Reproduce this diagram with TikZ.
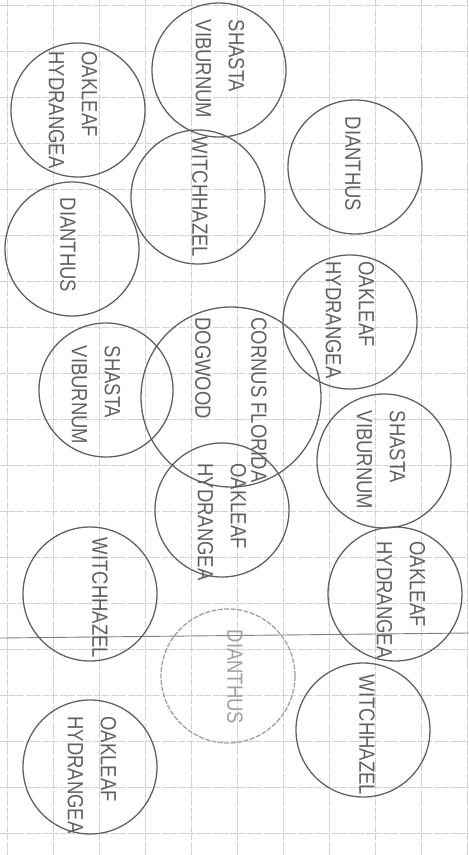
\documentclass[tikz,border=0pt]{standalone}
\usepackage{fontspec}
\newfontfamily\handfont[FakeStretch=0.84]{Liberation Sans}
\definecolor{pencil}{RGB}{96,96,96}
\definecolor{faint}{RGB}{160,160,160}
\definecolor{gridgray}{RGB}{210,210,210}

\begin{document}
\begin{tikzpicture}[x=1pt, y=-1pt,
  shrub/.style={draw=pencil, line width=1.3pt},
  tag/.style={rotate=-90, text=pencil, align=left, inner sep=0pt,
    font=\handfont\fontsize{22}{33}\selectfont},
  gridline/.style={draw=gridgray, line width=0.6pt, dash pattern=on 7pt off 1.5pt},
]
  \useasboundingbox (0,0) rectangle (469,855);
  % Grid paper
  \foreach \x in {7,53,...,469}{
    \draw[gridline] (\x,0) -- (\x,855);
  }
  \foreach \y in {5,51,...,855}{
    \draw[gridline] (0,\y) -- (469,\y);
  }
  % Fold across the sheet
  \draw[pencil!80, line width=0.9pt] (0,638) -- (469,633);
  % Shasta viburnum
  \foreach \cx/\cy/\tx/\ty [count=\i] in {219/70/220/69, 106/390/96/395, 384/461/381/460}{
    \draw[shrub] (\cx,\cy) circle[radius=67];
    \node[tag] (sv\i) at (\tx,\ty) {SHASTA\\VIBURNUM};
  }
  % Oakleaf hydrangea
  \foreach \cx/\cy/\tx/\ty [count=\i] in {78/110/73/110, 350/322/350/320,
      222/510/222/522, 395/594/401/600, 90/767/92/775}{
    \draw[shrub] (\cx,\cy) circle[radius=67];
    \node[tag] (oh\i) at (\tx,\ty) {OAKLEAF\\HYDRANGEA};
  }
  % Witch hazel
  \foreach \cx/\cy/\tx/\ty [count=\i] in {198/197/200/197, 90/594/100/598, 363/730/367/735}{
    \draw[shrub] (\cx,\cy) circle[radius=67];
    \node[tag] (wh\i) at (\tx,\ty) {WITCHHAZEL};
  }
  % Dianthus
  \foreach \cx/\cy/\tx/\ty [count=\i] in {72/249/68/245, 355/167/353/164}{
    \draw[shrub] (\cx,\cy) circle[radius=67];
    \node[tag] (di\i) at (\tx,\ty) {DIANTHUS};
  }
  \draw[shrub, draw=faint, dash pattern=on 5pt off 1.5pt] (228,676) circle[radius=67];
  \node[tag, text=faint] (di3) at (235,677) {DIANTHUS};
  % Dogwood
  \draw[shrub] (231,397) circle[radius=90];
  \node[tag, font=\handfont\fontsize{22}{56}\selectfont] (dw) at (231,400)
    {CORNUS FLORIDA\\DOGWOOD};
\end{tikzpicture}
\end{document}
